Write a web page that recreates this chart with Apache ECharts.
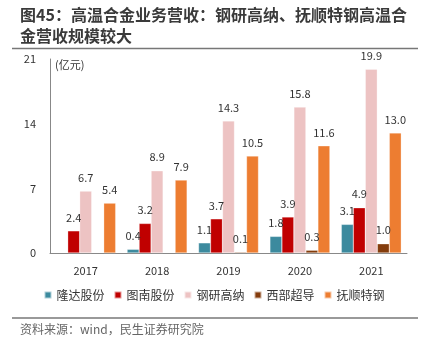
<!DOCTYPE html>
<html>
<head>
<meta charset="utf-8">
<script src="https://cdn.jsdelivr.net/npm/echarts@6/dist/echarts.min.js"></script>
<style>
  html, body { margin: 0; padding: 0; background: #fff; }
  #main { width: 428px; height: 353px; }
</style>
</head>
<body>
<div id="main"></div>
<script>
const years = ["2017", "2018", "2019", "2020", "2021"];
const longda = [null, 0.4, 1.1, 1.8, 3.1];
const tunan = [2.4, 3.2, 3.7, 3.9, 4.9];
const gangyan = [6.7, 8.9, 14.3, 15.8, 19.9];
const xibu = [null, null, 0.1, 0.3, 1.0];
const fushun = [5.4, 7.9, 10.5, 11.6, 13.0];
const yTicks = [0, 7, 14, 21];

const font = "'Noto Sans CJK SC', 'Noto Sans', sans-serif";

function bar(name, data, color) {
  return {
    name: name,
    type: "bar",
    data: data,
    barWidth: 12,
    barGap: "0%",
    itemStyle: { color: color, borderColor: "rgba(255,255,255,0.6)", borderWidth: 0.5 },
    label: {
      show: true,
      position: "top",
      distance: 8,
      color: "#333",
      fontSize: 11,
      fontFamily: font,
      formatter: (p) => p.value.toFixed(1),
    },
  };
}

const myChart = echarts.init(document.getElementById("main"));

myChart.setOption({
  animation: false,
  grid: { left: 50, right: 21, top: 59, bottom: 100 },
  legend: {
    bottom: 47,
    left: "center",
    itemWidth: 7,
    itemHeight: 7,
    itemGap: 9,
    icon: "rect",
    textStyle: { fontSize: 12, color: "#333", fontFamily: font },
  },
  xAxis: {
    type: "category",
    data: years,
    axisLine: { lineStyle: { color: "#888" } },
    axisTick: { show: false },
    axisLabel: { color: "#333", fontSize: 11, margin: 12, fontFamily: font },
  },
  yAxis: {
    type: "value",
    min: yTicks[0],
    max: yTicks[yTicks.length - 1],
    interval: 7,
    splitLine: { show: false },
    axisLine: { show: true, lineStyle: { color: "#888" } },
    axisTick: { show: false },
    axisLabel: { color: "#333", fontSize: 11, margin: 14, fontFamily: font },
  },
  series: [
    bar("隆达股份", longda, "#3C8A9E"),
    bar("图南股份", tunan, "#C00000"),
    bar("钢研高纳", gangyan, "#EDC3C3"),
    bar("西部超导", xibu, "#843C0C"),
    bar("抚顺特钢", fushun, "#ED7D31"),
  ],
  graphic: [
    {
      type: "text",
      left: 20,
      top: 4,
      style: {
        text: "图45：高温合金业务营收：钢研高纳、抚顺特钢高温合\n金营收规模较大",
        font: "bold 16px " + font,
        fill: "#3a3a3a",
        lineHeight: 21,
      },
    },
    {
      type: "line",
      shape: { x1: 12, y1: 48.5, x2: 418, y2: 48.5 },
      style: { stroke: "#777", lineWidth: 1.5 },
    },
    {
      type: "text",
      left: 55,
      top: 59,
      style: { text: "(亿元)", font: "11px " + font, fill: "#333" },
    },
    {
      type: "line",
      shape: { x1: 12, y1: 318, x2: 418, y2: 318 },
      style: { stroke: "#777", lineWidth: 1.5 },
    },
    {
      type: "text",
      left: 20,
      top: 323,
      style: { text: "资料来源：wind，民生证券研究院", font: "12px " + font, fill: "#666" },
    },
  ],
});
</script>
</body>
</html>
